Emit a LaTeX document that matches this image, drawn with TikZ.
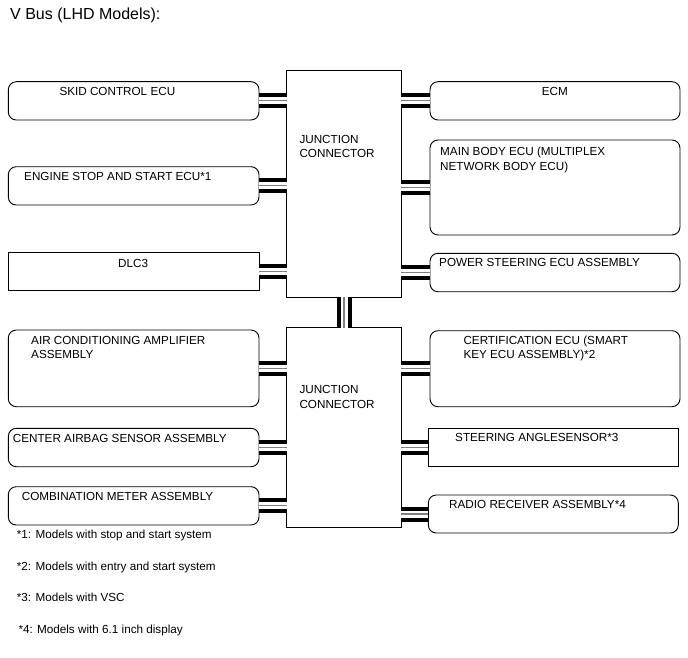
\documentclass[tikz,border=0pt]{standalone}
\usepackage{fontspec}
\setmainfont{Liberation Sans}
\begin{document}
\begin{tikzpicture}[x=1pt,y=-1pt,
  box/.style={draw=black, line width=0.9pt, rounded corners=8pt},
  rbox/.style={draw=black, line width=0.9pt},
  txt/.style={anchor=base west, inner sep=0pt, align=left, font=\fontsize{11.7}{14.5}\selectfont},
  bus/.style={draw=black, line width=15pt,
     postaction={draw=white, line width=7pt},
     postaction={draw=gray, line width=1.2pt}}
]
\useasboundingbox[fill=white] (0,0) rectangle (688,658);

% title
\node[anchor=base west, inner sep=0pt, font=\fontsize{16}{19}\selectfont] (title) at (10,20) {V Bus (LHD Models):};

% junctions
\node[inner sep=0pt, minimum width=114pt, minimum height=226pt] (jc1) at (344,184) {};
\node[inner sep=0pt, minimum width=114pt, minimum height=199pt] (jc2) at (344,427.5) {};
\draw[rbox] (jc1.north west) rectangle (jc1.south east);
\draw[rbox] (jc2.north west) rectangle (jc2.south east);

% boxes
\path[box] (8.3,81.7) rectangle (259,120) node[pos=.5, inner sep=0pt, minimum width=250.7pt, minimum height=38.3pt] (skid) {};
\path[box] (8.3,166.7) rectangle (259,205) node[pos=.5, inner sep=0pt, minimum width=250.7pt, minimum height=38.3pt] (engine) {};
\path[rbox] (8.3,252.3) rectangle (259,290.7) node[pos=.5, inner sep=0pt, minimum width=250.7pt, minimum height=38.4pt] (dlc) {};
\path[box] (430,81.7) rectangle (680,120) node[pos=.5, inner sep=0pt, minimum width=250pt, minimum height=38.3pt] (ecm) {};
\path[box] (430,140) rectangle (680,235) node[pos=.5, inner sep=0pt, minimum width=250pt, minimum height=95pt] (main) {};
\path[box] (430,253.3) rectangle (680,291.7) node[pos=.5, inner sep=0pt, minimum width=250pt, minimum height=38.4pt] (power) {};
\path[box] (8.3,330) rectangle (259,406.7) node[pos=.5, inner sep=0pt, minimum width=250.7pt, minimum height=76.7pt] (air) {};
\path[box] (8.3,428.3) rectangle (259,466.7) node[pos=.5, inner sep=0pt, minimum width=250.7pt, minimum height=38.4pt] (airbag) {};
\path[box] (8.3,486.7) rectangle (259,525) node[pos=.5, inner sep=0pt, minimum width=250.7pt, minimum height=38.3pt] (comb) {};
\path[box] (430,330.7) rectangle (680,406.7) node[pos=.5, inner sep=0pt, minimum width=250pt, minimum height=76pt] (cert) {};
\path[rbox] (428.3,428.3) rectangle (678.3,466) node[pos=.5, inner sep=0pt, minimum width=250pt, minimum height=37.7pt] (steer) {};
\path[box] (428.3,495) rectangle (678.3,533) node[pos=.5, inner sep=0pt, minimum width=250pt, minimum height=38pt] (radio) {};

% connectors
\draw[bus] (skid.east) -- (jc1.west |- skid.east);
\draw[bus] (engine.east) -- (jc1.west |- engine.east);
\draw[bus] (dlc.east) -- (jc1.west |- dlc.east);
\draw[bus] (ecm.west) -- (jc1.east |- ecm.west);
\draw[bus] (main.west) -- (jc1.east |- main.west);
\draw[bus] (power.west) -- (jc1.east |- power.west);
\draw[bus] (air.east) -- (jc2.west |- air.east);
\draw[bus] (airbag.east) -- (jc2.west |- airbag.east);
\draw[bus] (comb.east) -- (jc2.west |- comb.east);
\draw[bus] (cert.west) -- (jc2.east |- cert.west);
\draw[bus] (steer.west) -- (jc2.east |- steer.west);
\draw[bus] (radio.west) -- (jc2.east |- radio.west);
\draw[bus] (jc1.south) -- (jc2.north);

% texts (base = last line)
\node[txt] (t-skid) at (59.3,96) {SKID CONTROL ECU};
\node[txt] (t-engine) at (24,180.7) {ENGINE STOP AND START ECU*1};
\node[txt] (t-dlc) at (118,267) {DLC3};
\node[txt] (t-ecm) at (541.7,96) {ECM};
\node[txt] (t-main) at (440,170) {MAIN BODY ECU (MULTIPLEX\\NETWORK BODY ECU)};
\node[txt] (t-power) at (439,266.7) {POWER STEERING ECU ASSEMBLY};
\node[txt] (t-air) at (31,358.8) {AIR CONDITIONING AMPLIFIER\\ASSEMBLY};
\node[txt] (t-airbag) at (12.7,442.7) {CENTER AIRBAG SENSOR ASSEMBLY};
\node[txt] (t-comb) at (21.7,500.7) {COMBINATION METER ASSEMBLY};
\node[txt] (t-cert) at (463.3,358.8) {CERTIFICATION ECU (SMART\\KEY ECU ASSEMBLY)*2};
\node[txt] (t-steer) at (455,441.7) {STEERING ANGLESENSOR*3};
\node[txt] (t-radio) at (449,508.3) {RADIO RECEIVER ASSEMBLY*4};
\node[txt] (t-jc1) at (299.3,157.7) {JUNCTION\\CONNECTOR};
\node[txt] (t-jc2) at (299.3,408) {JUNCTION\\CONNECTOR};

% footnotes
\node[txt] (f1) at (16.7,538.3) {*1: Models with stop and start system};
\node[txt] (f2) at (16.7,570) {*2: Models with entry and start system};
\node[txt] (f3) at (16.7,601.7) {*3: Models with VSC};
\node[txt] (f4) at (18.3,633.3) {*4: Models with 6.1 inch display};
\end{tikzpicture}
\end{document}
